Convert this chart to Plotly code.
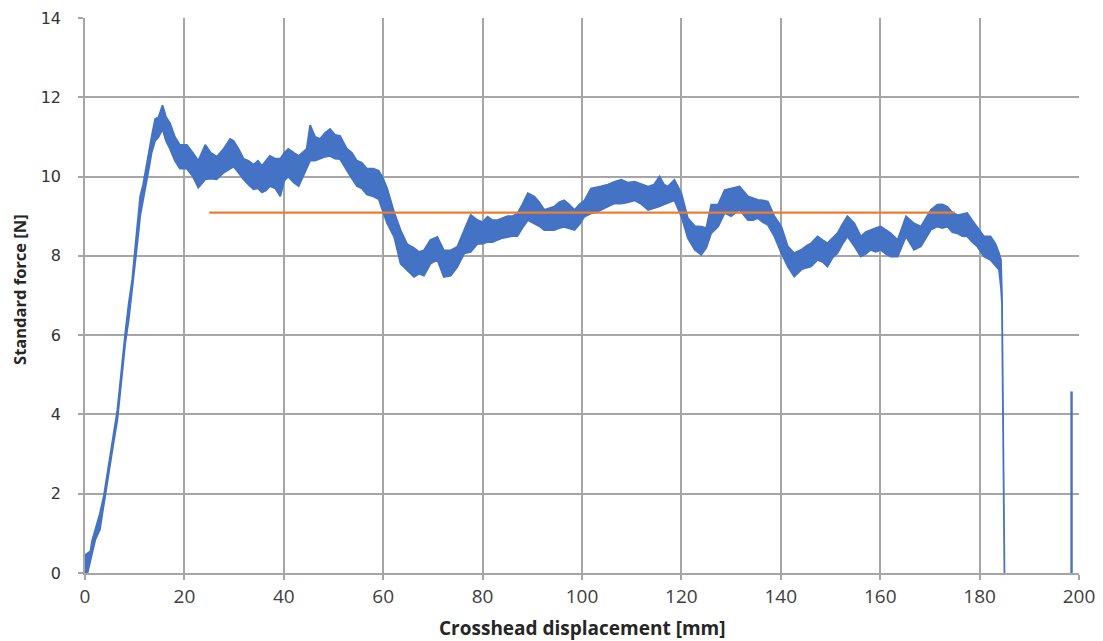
import plotly.graph_objects as go

# Envelope of the noisy force signal (x in mm, force in N)
disp_mm = [0, 0.5, 1.1, 1.4, 2.1, 3.0, 3.8, 4.5, 5.1, 5.7, 6.5, 7.0, 7.5, 8.1, 8.8, 9.5,
           10.1, 10.6, 11.1, 11.7, 12.4, 13.0, 13.4, 14.1, 14.8, 15.6, 16.3, 17.1, 18.1, 19.1,
           20.5, 21.7, 22.8, 24.2, 25.3, 26.5, 27.9, 29.2, 29.9, 30.9, 31.9, 32.9, 33.9, 34.8,
           35.6, 36.4, 37.2, 38.3, 39.3, 40.1, 40.9, 42.0, 43.0, 44.6, 45.3, 46.3, 47.3, 48.3,
           49.3, 50.3, 51.3, 52.7, 53.7, 54.7, 55.7, 56.7, 58.0, 59.1, 60.0, 60.8, 62.2, 63.5,
           64.8, 66.2, 67.2, 68.2, 69.5, 70.9, 72.2, 73.6, 74.9, 76.3, 77.6, 79.0, 80.0, 81.0,
           82.0, 83.0, 84.0, 85.0, 86.0, 87.0, 88.0, 89.1, 90.4, 91.4, 92.4, 93.4, 94.4, 95.4,
           96.4, 97.4, 98.5, 99.5, 100.5, 101.8, 102.8, 103.8, 105.2, 106.5, 107.9, 109.2, 110.6,
           112.0, 113.3, 114.5, 115.6, 116.5, 117.3, 118.6, 120.0, 121.3, 122.7, 124.0, 125.0,
           126.0, 127.4, 128.7, 130.0, 131.7, 133.4, 134.4, 135.4, 136.4, 137.4, 138.7, 140.1,
           141.4, 142.7, 144.1, 145.1, 146.1, 147.4, 148.4, 149.4, 150.4, 151.4, 152.4, 153.4,
           154.8, 156.1, 157.1, 158.1, 159.1, 160.1, 161.1, 162.1, 163.5, 165.2, 166.8, 168.2,
           170.2, 171.5, 172.5, 173.5, 174.5, 175.5, 176.5, 177.5, 178.5, 179.5, 180.9, 182.2,
           183.2, 183.9, 184.3, 184.5, 184.7, 185.0]
force_upper = [0.45, 0.5, 0.55, 0.8, 1.1, 1.5, 1.95, 2.5, 3.0, 3.5, 4.1, 4.7, 5.4, 6.05, 6.8, 7.4,
               8.2, 8.8, 9.5, 9.8, 10.3, 10.8, 11.0, 11.45, 11.5, 11.8, 11.5, 11.35, 11.0, 10.8,
               10.8, 10.6, 10.4, 10.8, 10.6, 10.5, 10.7, 10.95, 10.9, 10.7, 10.45, 10.4, 10.3, 10.4,
               10.27, 10.4, 10.52, 10.45, 10.45, 10.6, 10.7, 10.6, 10.52, 10.7, 11.3, 11.0, 10.95, 11.1,
               11.2, 11.05, 11.03, 10.7, 10.6, 10.4, 10.35, 10.2, 10.2, 10.15, 9.95, 9.7, 9.1, 8.65,
               8.3, 8.2, 8.1, 8.14, 8.4, 8.48, 8.14, 8.14, 8.23, 8.65, 9.03, 8.9, 8.85, 8.99,
               8.9, 8.9, 8.95, 9.0, 9.0, 9.07, 9.3, 9.58, 9.5, 9.35, 9.16, 9.2, 9.24, 9.35,
               9.4, 9.3, 9.16, 9.3, 9.4, 9.7, 9.72, 9.75, 9.8, 9.87, 9.92, 9.85, 9.87,
               9.8, 9.75, 9.8, 10.0, 9.8, 9.75, 9.92, 9.58, 8.95, 8.75, 8.74, 8.7,
               9.29, 9.3, 9.66, 9.7, 9.75, 9.5, 9.45, 9.41, 9.4, 9.37, 9.0, 8.74,
               8.24, 8.07, 8.15, 8.25, 8.32, 8.49, 8.4, 8.32, 8.45, 8.57, 8.8, 9.0,
               8.82, 8.49, 8.6, 8.66, 8.7, 8.74, 8.65, 8.57, 8.4, 9.0, 8.82, 8.74,
               9.16, 9.29, 9.3, 9.24, 9.1, 9.03, 9.05, 9.08, 8.9, 8.74, 8.49, 8.49,
               8.3, 8.07, 7.9, 7.0, 3.3, 0.0]
force_lower = [0.0, 0.0, 0.3, 0.5, 0.85, 1.1, 1.7, 2.25, 2.75, 3.25, 3.85, 4.4, 5.0, 5.8, 6.4, 7.1,
               7.8, 8.4, 9.0, 9.5, 9.9, 10.3, 10.6, 10.9, 11.0, 11.2, 10.9, 10.7, 10.4, 10.2,
               10.2, 10.0, 9.72, 9.93, 9.95, 9.93, 10.1, 10.2, 10.25, 10.1, 9.93, 9.8, 9.68, 9.7,
               9.6, 9.65, 9.76, 9.7, 9.5, 9.9, 10.0, 9.85, 9.76, 10.2, 10.4, 10.4, 10.44, 10.5,
               10.52, 10.45, 10.44, 10.14, 9.95, 9.76, 9.7, 9.55, 9.5, 9.43, 9.1, 8.82, 8.48, 7.8,
               7.64, 7.47, 7.55, 7.5, 7.8, 7.9, 7.47, 7.5, 7.72, 8.06, 8.1, 8.31, 8.3, 8.35,
               8.35, 8.4, 8.45, 8.48, 8.5, 8.5, 8.7, 8.9, 8.82, 8.75, 8.65, 8.65, 8.65, 8.7,
               8.73, 8.7, 8.65, 8.8, 8.99, 9.07, 9.1, 9.16, 9.25, 9.32, 9.32, 9.35, 9.4,
               9.3, 9.16, 9.2, 9.25, 9.3, 9.35, 9.4, 8.99, 8.45, 8.15, 8.03, 8.2,
               8.57, 8.74, 9.08, 9.0, 9.16, 8.9, 8.9, 8.95, 8.85, 8.78, 8.49, 8.07,
               7.73, 7.48, 7.65, 7.7, 7.73, 7.9, 7.85, 7.73, 7.95, 8.07, 8.3, 8.49,
               8.24, 7.98, 8.05, 8.15, 8.1, 8.15, 8.05, 7.98, 7.98, 8.49, 8.15, 8.24,
               8.66, 8.74, 8.7, 8.74, 8.6, 8.57, 8.5, 8.49, 8.35, 8.24, 7.98, 7.9,
               7.75, 7.65, 7.2, 6.8, 3.1, 0.0]

# Isolated trailing spike
tail_disp = [198.5, 198.5]
tail_force = [0.0, 4.58]

# Mean-force reference line
mean_disp = [25.0, 175.0]
mean_force = [9.09, 9.09]

x_ticks = list(range(0, 201, 20))
y_ticks = list(range(0, 15, 2))

X_TITLE = "Crosshead displacement [mm]"
Y_TITLE = "Standard force [N]"

BLUE = "#4472C4"
ORANGE = "#ED7D31"
GRID = "#A6A6A6"

fig = go.Figure()
fig.add_trace(go.Scatter(
    x=disp_mm + disp_mm[::-1],
    y=force_upper + force_lower[::-1],
    mode="lines", fill="toself", fillcolor=BLUE,
    line=dict(color=BLUE, width=1.8), hoverinfo="skip", showlegend=False))
fig.add_trace(go.Scatter(x=tail_disp, y=tail_force, mode="lines",
                         line=dict(color=BLUE, width=2.4), showlegend=False))
fig.add_trace(go.Scatter(x=mean_disp, y=mean_force, mode="lines",
                         line=dict(color=ORANGE, width=2.4), showlegend=False))

# The page body adds an 8px offset, so the figure is sized/margined to compensate.
fig.update_layout(
    width=1095, height=633,
    margin=dict(l=77, r=24, t=10, b=68, autoexpand=False),
    paper_bgcolor="white", plot_bgcolor="white",
    showlegend=False,
    annotations=[
        dict(text="<b>" + X_TITLE + "</b>", xref="paper", yref="paper", x=0.5, y=0,
             xanchor="center", yanchor="middle", yshift=-55, showarrow=False,
             font=dict(family="Open Sans", size=19, color="#262626")),
        dict(text="<b>" + Y_TITLE + "</b>", xref="paper", yref="paper", x=0, y=0.51,
             xanchor="center", yanchor="middle", xshift=-65, textangle=-90, showarrow=False,
             font=dict(family="Open Sans", size=16.5, color="#262626")),
    ],
)
fig.update_xaxes(
    range=[0, 200], tickvals=x_ticks, ticktext=[str(v) for v in x_ticks],
    showgrid=True, gridcolor=GRID, gridwidth=1.5,
    showline=True, linecolor=GRID, linewidth=1.5,
    zeroline=False, automargin=False,
    ticks="outside", ticklen=5, tickcolor=GRID, tickwidth=1.5,
    tickfont=dict(family="Open Sans", size=19, color="#404040"),
)
fig.update_yaxes(
    range=[0, 14], tickvals=y_ticks, ticktext=[str(v) for v in y_ticks],
    showgrid=True, gridcolor=GRID, gridwidth=1.5,
    showline=True, linecolor=GRID, linewidth=1.5,
    zeroline=False, automargin=False,
    ticks="outside", ticklen=5, tickcolor=GRID, tickwidth=1.5,
    tickfont=dict(family="DejaVu Sans", size=16, color="#333333"),
    ticklabelstandoff=14,
)

fig.write_html("out.html")
